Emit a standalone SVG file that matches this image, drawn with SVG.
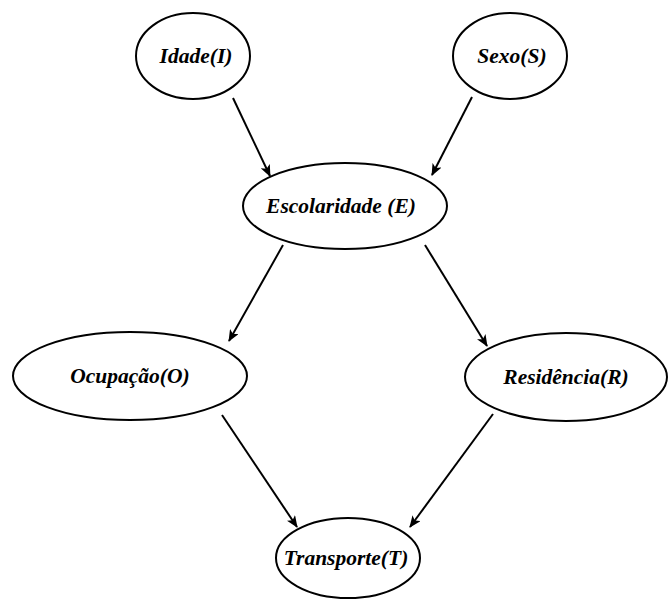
<svg xmlns="http://www.w3.org/2000/svg" width="670" height="599" viewBox="0 0 670 599">
  <style>
    .node ellipse { fill: #ffffff; stroke: #000000; stroke-width: 2; }
    .node text { font-family: "Liberation Serif", "DejaVu Serif", serif; font-size: 21.5px; font-weight: bold; font-style: italic; fill: #000000; text-anchor: middle; }
    .edge { stroke: #000000; stroke-width: 2; fill: none; marker-end: url(#arrow); }
  </style>
  <defs>
    <marker id="arrow" viewBox="0 0 12 10" refX="11" refY="5" markerWidth="12" markerHeight="10" markerUnits="userSpaceOnUse" orient="auto">
      <path d="M0,0 L12,5 L0,10 L3,5 z" fill="#000000"/>
    </marker>
  </defs>
  <rect width="670" height="599" fill="#ffffff"/>

  <g id="connectors">
    <line class="edge" x1="233" y1="98" x2="270" y2="176"/>
    <line class="edge" x1="472" y1="97" x2="432" y2="175"/>
    <line class="edge" x1="283" y1="245" x2="229" y2="341"/>
    <line class="edge" x1="425" y1="245" x2="487" y2="346"/>
    <line class="edge" x1="222" y1="415" x2="297" y2="527"/>
    <line class="edge" x1="493" y1="414" x2="410" y2="527"/>
  </g>

  <g id="idade" class="node">
    <ellipse cx="193" cy="56" rx="57" ry="43"/>
    <text x="196" y="63">Idade(I)</text>
  </g>
  <g id="sexo" class="node">
    <ellipse cx="510" cy="56" rx="57" ry="43"/>
    <text x="512" y="63">Sexo(S)</text>
  </g>
  <g id="escolaridade" class="node">
    <ellipse cx="345" cy="206" rx="102" ry="43"/>
    <text x="341" y="213">Escolaridade (E)</text>
  </g>
  <g id="ocupacao" class="node">
    <ellipse cx="130" cy="376" rx="117" ry="44"/>
    <text x="130" y="383">Ocupação(O)</text>
  </g>
  <g id="residencia" class="node">
    <ellipse cx="566" cy="377" rx="101" ry="44"/>
    <text x="566" y="384">Residência(R)</text>
  </g>
  <g id="transporte" class="node">
    <ellipse cx="348" cy="558" rx="72" ry="40"/>
    <text x="346" y="565">Transporte(T)</text>
  </g>
</svg>
